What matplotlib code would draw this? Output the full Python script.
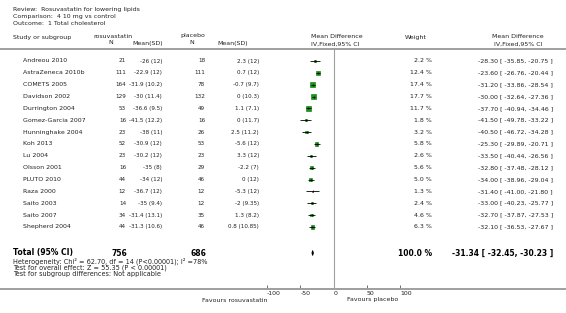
import numpy as np
import matplotlib
matplotlib.use("Agg")
import matplotlib.pyplot as plt
from matplotlib import font_manager

plt.rcParams['font.family'] = ['DejaVu Sans']
plt.rcParams['axes.unicode_minus'] = False

# --- data ---
studies = ["Andreou 2010", "AstraZeneca 2010b", "COMETS 2005", "Davidson 2002",
           "Durrington 2004", "Gomez-Garcia 2007", "Hunninghake 2004", "Koh 2013",
           "Lu 2004", "Olsson 2001", "PLUTO 2010", "Raza 2000", "Saito 2003",
           "Saito 2007", "Shepherd 2004"]
rosu_n = [21, 111, 164, 129, 53, 16, 23, 52, 23, 16, 44, 12, 14, 34, 44]
rosu_mean = [-26, -22.9, -31.9, -30, -36.6, -41.5, -38, -30.9, -30.2, -35, -34, -36.7, -35, -31.4, -31.3]
rosu_sd = [12, 12, 10.2, 11.4, 9.5, 12.2, 11, 12, 12, 8, 12, 12, 9.4, 13.1, 10.6]
plac_n = [18, 111, 78, 132, 49, 16, 26, 53, 23, 29, 46, 12, 12, 35, 46]
plac_mean = [2.3, 0.7, -0.7, 0, 1.1, 0, 2.5, -5.6, 3.3, -2.2, 0, -5.3, -2, 1.3, 0.8]
plac_sd = [12, 12, 9.7, 10.3, 7.1, 11.7, 11.2, 12, 12, 7, 12, 12, 9.35, 8.2, 10.85]
weight = [2.2, 12.4, 17.4, 17.7, 11.7, 1.8, 3.2, 5.8, 2.6, 5.6, 5.0, 1.3, 2.4, 4.6, 6.3]
md = [-28.30, -23.60, -31.20, -30.00, -37.70, -41.50, -40.50, -25.30, -33.50, -32.80,
      -34.00, -31.40, -33.00, -32.70, -32.10]
ci_lo = [-35.85, -26.76, -33.86, -32.64, -40.94, -49.78, -46.72, -29.89, -40.44, -37.48,
         -38.96, -41.00, -40.23, -37.87, -36.53]
ci_hi = [-20.75, -20.44, -28.54, -27.36, -34.46, -33.22, -34.28, -20.71, -26.56, -28.12,
         -29.04, -21.80, -25.77, -27.53, -27.67]

total_rosu_n = 756
total_plac_n = 686
total_weight = 100.0
total_md = -31.34
total_lo = -32.45
total_hi = -30.23

axis_ticks = [-100, -50, 0, 50, 100]

TXT = '#222222'
GRAY = '#a0a0a0'
FS = 4.5

# narrower face for the N / Mean(SD) columns (falls back to normal width)
narrow = font_manager.FontProperties(family=['DejaVu Sans'], stretch='condensed', size=4.5)

fig = plt.figure(figsize=(5.66, 3.13), dpi=100)
bg = fig.add_axes([0, 0, 1, 1])
bg.set_xlim(0, 566)
bg.set_ylim(313, 0)
bg.axis('off')

# title block
bg.text(13, 10, "Review:  Rosuvastatin for lowering lipids", fontsize=4.5, color=TXT, va='center')
bg.text(13, 16.5, "Comparison:  4 10 mg vs control", fontsize=4.5, color=TXT, va='center')
bg.text(13, 23.5, "Outcome:  1 Total cholesterol", fontsize=4.5, color=TXT, va='center')

# column headers
hdr = dict(fontsize=FS, color=TXT, va='center')
bg.text(13, 38, "Study or subgroup", **hdr)
bg.text(93, 36, "rosuvastatin", **hdr)
bg.text(111, 43, "N", ha='center', **hdr)
bg.text(132, 43, "Mean(SD)", **hdr)
bg.text(180, 36, "placebo", **hdr)
bg.text(192, 43, "N", ha='center', **hdr)
bg.text(217, 43, "Mean(SD)", **hdr)
bg.text(337, 37, "Mean Difference", ha='center', **hdr)
bg.text(335, 44, "IV,Fixed,95% CI", ha='center', **hdr)
bg.text(416, 37, "Weight", ha='center', **hdr)
bg.text(518, 37, "Mean Difference", ha='center', **hdr)
bg.text(518, 44, "IV,Fixed,95% CI", ha='center', **hdr)

bg.plot([0, 566], [49, 49], color=GRAY, lw=1.4, solid_capstyle='butt')
bg.plot([0, 566], [289, 289], color=GRAY, lw=1.4, solid_capstyle='butt')

row_y = 61 + 11.85 * np.arange(len(studies))
total_y = 253

row = dict(fontsize=FS, color=TXT, va='center')
num = dict(fontproperties=narrow, color=TXT, va='center')
for i, name in enumerate(studies):
    y = row_y[i]
    bg.text(23, y, name, **row)
    bg.text(126, y, f"{rosu_n[i]}", ha='right', **num)
    bg.text(162, y, f"{rosu_mean[i]:g} ({rosu_sd[i]:g})", ha='right', **num)
    bg.text(205, y, f"{plac_n[i]}", ha='right', **num)
    bg.text(259, y, f"{plac_mean[i]:g} ({plac_sd[i]:g})", ha='right', **num)
    bg.text(432, y, f"{weight[i]:.1f} %", ha='right', **row)
    bg.text(553, y, f"{md[i]:.2f} [ {ci_lo[i]:.2f}, {ci_hi[i]:.2f} ]", ha='right', **row)

# total row
bold = dict(fontsize=5.5, color='black', va='center', fontweight='bold')
bg.text(13, total_y, "Total (95% CI)", **bold)
bg.text(127, total_y, f"{total_rosu_n}", ha='right', **bold)
bg.text(206, total_y, f"{total_plac_n}", ha='right', **bold)
bg.text(432, total_y, f"{total_weight:.1f} %", ha='right', **bold)
bg.text(553, total_y, f"{total_md:.2f} [ {total_lo:.2f}, {total_hi:.2f} ]", ha='right', **bold)

foot = dict(fontsize=4.7, color=TXT, va='center')
bg.text(13, 261, "Heterogeneity: Chi² = 62.70, df = 14 (P<0.00001); I² =78%", **foot)
bg.text(13, 267.5, "Test for overall effect: Z = 55.35 (P < 0.00001)", **foot)
bg.text(13, 274, "Test for subgroup differences: Not applicable", **foot)

bg.text(267, 300, "Favours rosuvastatin", ha='right', **row)
bg.text(347, 300, "Favours placebo", ha='left', **row)

# forest plot panel
fx = fig.add_axes([267 / 566, 0, 133 / 566, 1])
fx.set_xlim(-100, 100)
fx.set_ylim(313, 0)
fx.patch.set_alpha(0)
for s in ['left', 'right', 'top']:
    fx.spines[s].set_visible(False)
fx.spines['bottom'].set_position(('data', 289))
fx.spines['bottom'].set_color(GRAY)
fx.spines['bottom'].set_linewidth(1.4)
fx.set_yticks([])
fx.set_xticks(axis_ticks)
fx.set_xticklabels([f"{t}" for t in axis_ticks])
fx.tick_params(axis='x', direction='in', length=3, width=0.6, color='#555555',
               labelsize=FS, labelcolor=TXT, pad=1.5)
for lab in fx.get_xticklabels():
    lab.set_horizontalalignment('left')

fx.plot([0, 0], [48, 289], color=GRAY, lw=0.8)

fx.hlines(row_y, ci_lo, ci_hi, color='black', lw=0.6, zorder=3)
side_px = 1.3 * np.sqrt(np.array(weight))
fx.scatter(md, row_y, s=(side_px * 0.72) ** 2, marker='s',
           facecolor='#129a12', edgecolor='#0b6b0b', linewidths=0.4, zorder=2)
fx.scatter(md, row_y, s=1.2, marker='|', color='black', linewidths=0.5, zorder=4)

# pooled diamond
fx.fill([total_lo, total_md, total_hi, total_md],
        [total_y, total_y - 2.5, total_y, total_y + 2.5],
        color='black', lw=0.6, edgecolor='black', zorder=3)

fig.savefig("out.png", dpi=100)
